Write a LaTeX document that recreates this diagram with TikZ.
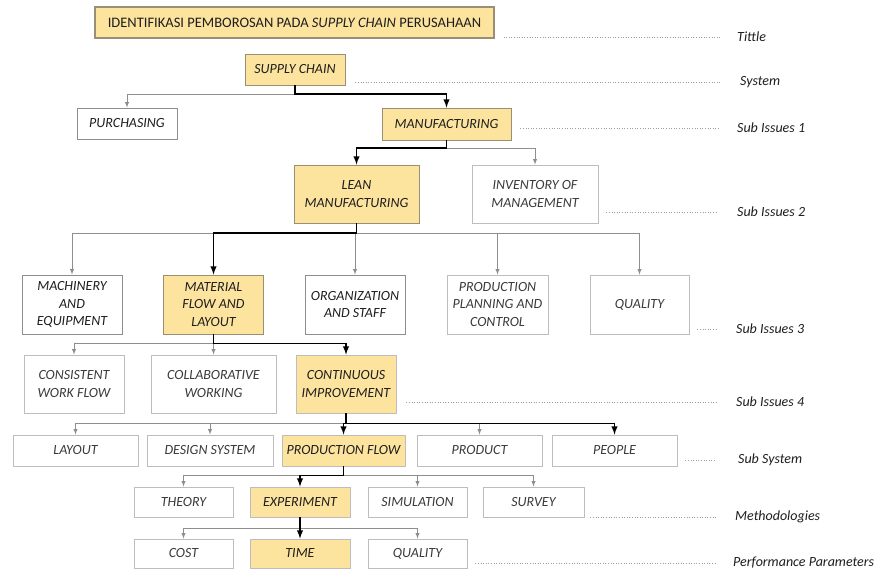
\documentclass[tikz,border=0pt]{standalone}
\usepackage{fontspec}
\setmainfont{Carlito}
\usepackage{xcolor}
\usepackage{tikz}
\usetikzlibrary{calc}
\definecolor{Y0}{HTML}{FCE39E}
\definecolor{B0}{HTML}{9A8F74}
\definecolor{G0}{HTML}{8E8E8E}
\definecolor{G1}{HTML}{BDBDBD}
\definecolor{G2}{HTML}{9C9C9C}
\definecolor{T0}{HTML}{1E1E1E}
\definecolor{T1}{HTML}{3A3A3A}

\begin{document}
\begin{tikzpicture}[x=1pt,y=-1pt,>=latex,
  box/.style={draw=G0, fill=white, line width=0.8pt, inner sep=0pt, align=center, text=T0, font=\fontsize{14}{17.5}\selectfont\itshape},
  hbox/.style={box, draw=B0, fill=Y0},
  lbox/.style={box, draw=G1, text=T1},
  lnk/.style={->, G0, line width=0.9pt},
  mainlnk/.style={->, black, line width=1.8pt},
  guide/.style={G2, dotted, line width=0.6pt},
  lbl/.style={anchor=west, inner sep=0pt, text=T0, font=\fontsize{14}{17}\selectfont\itshape}]
\fill[white] (0,0) rectangle (881,572);
\useasboundingbox (0,0) rectangle (881,572);

\node[hbox, line width=1.1pt, font=\fontsize{14.5}{17}\selectfont, minimum width=399pt, minimum height=31pt] (title) at (294.5,22.5) {IDENTIFIKASI PEMBOROSAN PADA \textit{SUPPLY CHAIN} PERUSAHAAN};
\node[hbox, minimum width=100pt, minimum height=31pt] (supply) at (295,69.5) {SUPPLY CHAIN};
\node[box, minimum width=100pt, minimum height=31pt] (purch) at (127,123.5) {PURCHASING};
\node[hbox, minimum width=129pt, minimum height=32pt] (manuf) at (446.5,124) {MANUFACTURING};
\node[hbox, minimum width=125pt, minimum height=58pt] (lean) at (356.5,194) {LEAN\\MANUFACTURING};
\node[lbox, minimum width=126pt, minimum height=58pt] (inv) at (535,194) {INVENTORY OF\\MANAGEMENT};

\node[box, minimum width=100pt, minimum height=59pt] (mach) at (72,304.5) {MACHINERY\\AND\\EQUIPMENT};
\node[hbox, minimum width=100pt, minimum height=59pt] (mat) at (213.5,304.5) {MATERIAL\\FLOW AND\\LAYOUT};
\node[box, minimum width=100pt, minimum height=59pt] (org) at (355,304.5) {ORGANIZATION\\AND STAFF};
\node[lbox, minimum width=101pt, minimum height=59pt] (ppc) at (497.5,304.5) {PRODUCTION\\PLANNING AND\\CONTROL};
\node[lbox, minimum width=99pt, minimum height=59pt] (qual) at (639.5,304.5) {QUALITY};

\node[lbox, minimum width=100pt, minimum height=58pt] (cons) at (74,384) {CONSISTENT\\WORK FLOW};
\node[lbox, minimum width=125pt, minimum height=58pt] (collab) at (213.5,384) {COLLABORATIVE\\WORKING};
\node[hbox, draw=G1, minimum width=100pt, minimum height=58pt] (cont) at (346,384) {CONTINUOUS\\IMPROVEMENT};

\node[lbox, minimum width=125pt, minimum height=31pt] (layout) at (75.5,450.5) {LAYOUT};
\node[lbox, minimum width=126pt, minimum height=31pt] (design) at (210,450.5) {DESIGN SYSTEM};
\node[hbox, draw=G1, minimum width=123pt, minimum height=31pt] (pflow) at (343.5,450.5) {PRODUCTION FLOW};
\node[lbox, minimum width=125pt, minimum height=31pt] (product) at (479.5,450.5) {PRODUCT};
\node[lbox, minimum width=125pt, minimum height=31pt] (people) at (614.5,450.5) {PEOPLE};

\node[lbox, minimum width=99pt, minimum height=30pt] (theory) at (183.5,502) {THEORY};
\node[hbox, draw=G1, minimum width=100pt, minimum height=30pt] (exper) at (300,502) {EXPERIMENT};
\node[lbox, minimum width=99pt, minimum height=30pt] (sim) at (417.5,502) {SIMULATION};
\node[lbox, minimum width=101pt, minimum height=30pt] (survey) at (533.5,502) {SURVEY};

\node[lbox, minimum width=99pt, minimum height=29pt] (cost) at (183.5,553.5) {COST};
\node[hbox, draw=G1, minimum width=100pt, minimum height=29pt] (time) at (300,553.5) {TIME};
\node[lbox, minimum width=99pt, minimum height=29pt] (qperf) at (417.5,553.5) {QUALITY};

\node[lbl] (lTitle) at (737,37) {Tittle};
\node[lbl] (lSys) at (740,82) {System};
\node[lbl] (lSub1) at (737,128) {Sub Issues 1};
\node[lbl] (lSub2) at (737,212) {Sub Issues 2};
\node[lbl] (lSub3) at (736,329) {Sub Issues 3};
\node[lbl] (lSub4) at (736,402) {Sub Issues 4};
\node[lbl] (lSubSys) at (738,460) {Sub System};
\node[lbl] (lMeth) at (735,517) {Methodologies};
\node[lbl] (lPerf) at (733,563) {Performance Parameters};

\draw[guide] (lTitle.west -| title.east) ++(9,0) -- ([xshift=-17pt]lTitle.west);
\draw[guide] (lSys.west -| supply.east) ++(10,0) -- ([xshift=-18pt]lSys.west);
\draw[guide] (lSub1.west -| manuf.east) ++(9,0) -- ([xshift=-17pt]lSub1.west);
\draw[guide] (lSub2.west -| inv.east) ++(8,0) -- ([xshift=-19pt]lSub2.west);
\draw[guide] (lSub3.west -| qual.east) ++(8,0) -- ([xshift=-20pt]lSub3.west);
\draw[guide] (lSub4.west -| cont.east) ++(10,0) -- ([xshift=-20pt]lSub4.west);
\draw[guide] (lSubSys.west -| people.east) ++(8,0) -- ([xshift=-22pt]lSubSys.west);
\draw[guide] (lMeth.west -| survey.east) ++(6,0) -- ([xshift=-19pt]lMeth.west);
\draw[guide] (lPerf.west -| qperf.east) ++(8,0) -- ([xshift=-17pt]lPerf.west);

\draw[lnk] (supply.south) -- ++(0,9) -| (purch.north);
\draw[mainlnk] (supply.south) -- ++(0,9) -| (manuf.north);
\draw[lnk] (manuf.south) -- ++(0,8) -| (inv.north);
\draw[mainlnk] (manuf.south) -- ++(0,8) -| (lean.north);

\draw[lnk] (lean.south) -- ++(0,10) -| (mach.north);
\draw[lnk] (lean.south) -- ++(0,10) -| (org.north);
\draw[lnk] (lean.south) -- ++(0,10) -| (ppc.north);
\draw[lnk] (lean.south) -- ++(0,10) -| (qual.north);
\draw[mainlnk] (lean.south) -- ++(0,10) -| (mat.north);

\draw[lnk] (mat.south) -- ++(0,9) -| (cons.north);
\draw[lnk] (mat.south) -- ++(0,9) -| (collab.north);
\draw[mainlnk] (mat.south) -- ++(0,9) -| (cont.north);

\draw[lnk] (cont.south) -- ++(0,10) -| (layout.north);
\draw[lnk] (cont.south) -- ++(0,10) -| (design.north);
\draw[lnk] (cont.south) -- ++(0,10) -| (product.north);
\draw[mainlnk] (cont.south) -- ++(0,10) -| (people.north);
\draw[mainlnk] (cont.south) -- ++(0,10) -| (pflow.north);

\draw[lnk] (pflow.south) -- ++(0,9) -| (theory.north);
\draw[lnk] (pflow.south) -- ++(0,9) -| (sim.north);
\draw[lnk] (pflow.south) -- ++(0,9) -| (survey.north);
\draw[mainlnk] (pflow.south) -- ++(0,9) -| (exper.north);

\draw[lnk] (exper.south) -- ++(0,11) -| (cost.north);
\draw[lnk] (exper.south) -- ++(0,11) -| (qperf.north);
\draw[mainlnk] (exper.south) -- ++(0,11) -| (time.north);
\end{tikzpicture}
\end{document}
